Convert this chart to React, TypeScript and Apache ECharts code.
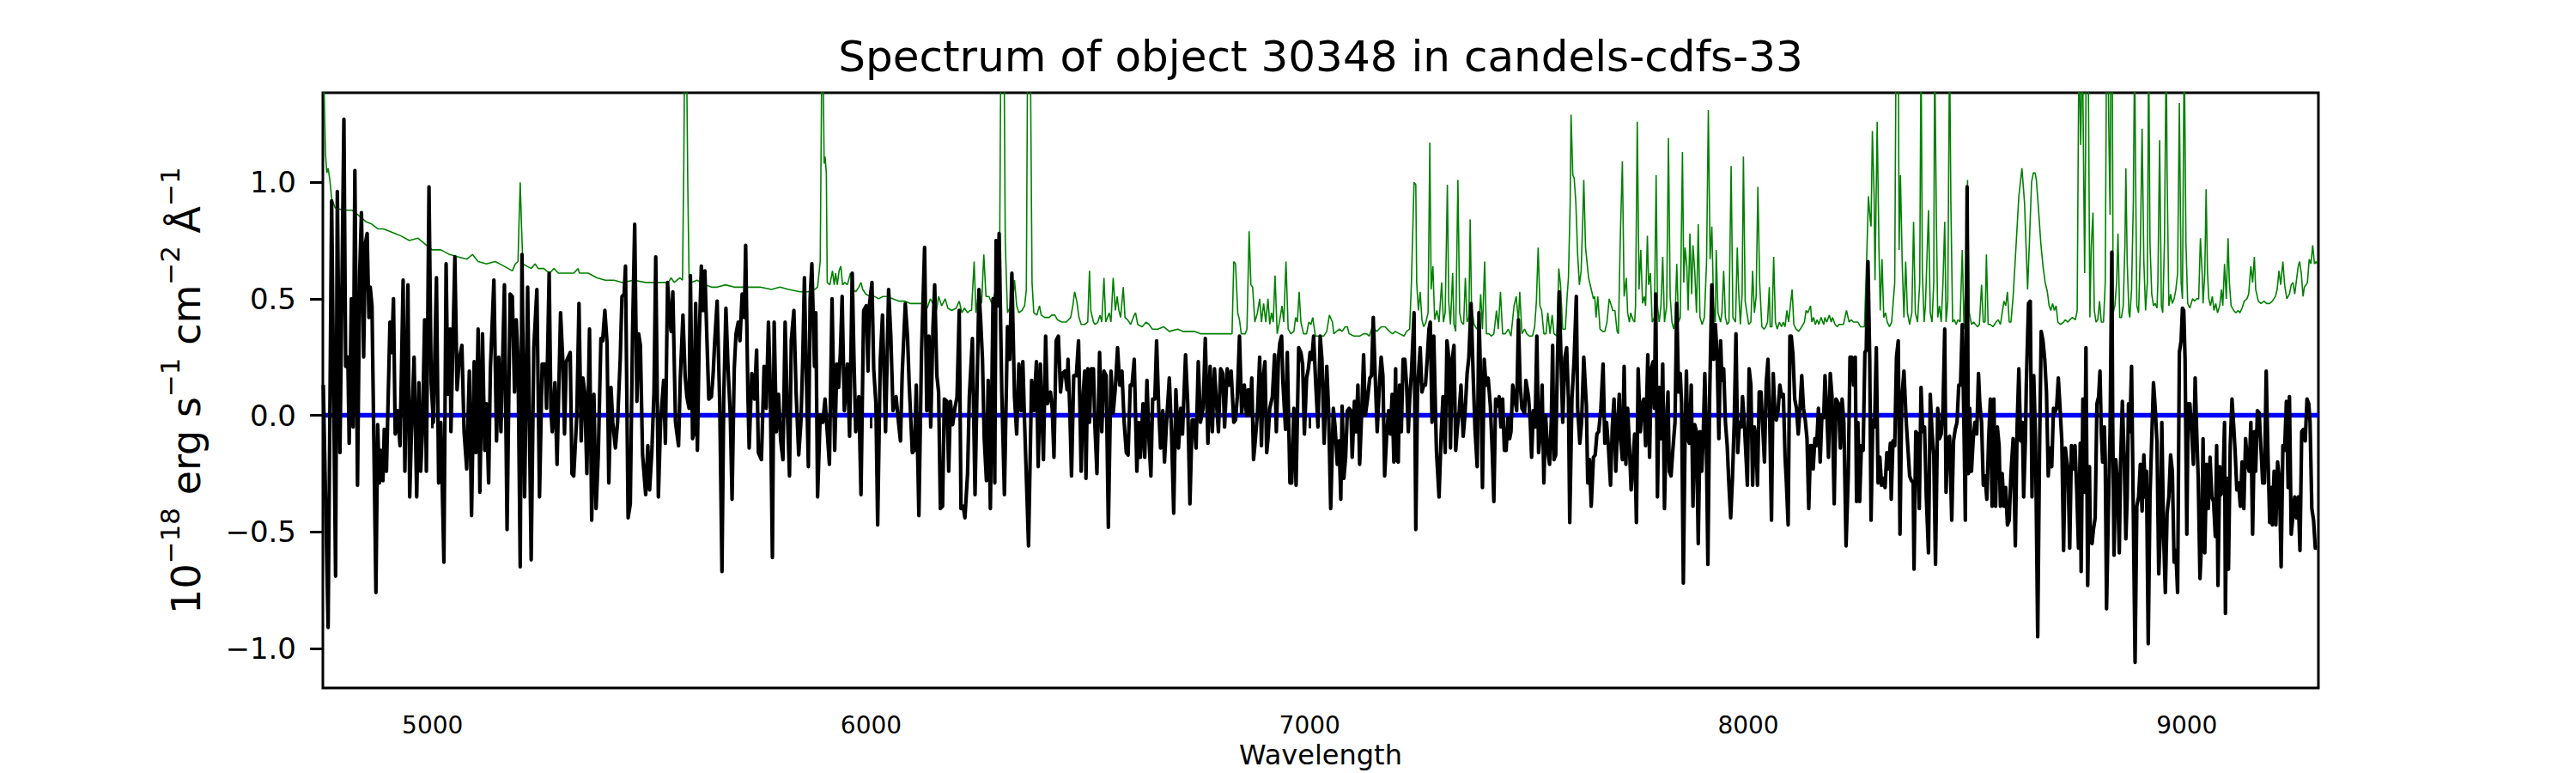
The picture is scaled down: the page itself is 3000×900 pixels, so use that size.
import React, { useEffect, useRef } from "react";
import * as echarts from "echarts";

const TITLE = "Spectrum of object 30348 in candels-cdfs-33";
const X_LABEL = "Wavelength";
const Y_LABEL = "{b|10}{s|\u221218}{b| erg s}{s|\u22121}{b| cm}{s|\u22122}{b| \u00c5}{s|\u22121}";
const X_MIN = 4750;
const X_MAX = 9300;
const Y_MIN = -1.17;
const Y_MAX = 1.384;
const X_TICKS = [5000, 6000, 7000, 8000, 9000];
const Y_TICKS = [-1.0, -0.5, 0.0, 0.5, 1.0];

// object spectrum [wavelength, flux]
const spectrum: [number, number][] = [
[4751,0.13],[4762,-0.91],[4770,0.92],[4779,-0.69],[4783,0.96],[4789,-0.16],[4798,1.27],[4802,0.21],[4807,0.25],[4810,-0.12],[4815,0.50],[4819,-0.05],[4823,1.05],[4829,-0.30],[4834,0.61],[4838,0.87],[4843,0.25],[4847,0.74],[4851,0.78],[4855,0.42],[4858,0.55],[4862,0.47],[4871,-0.76],[4875,-0.04],[4879,-0.29],[4882,-0.15],[4887,-0.28],[4890,-0.06],[4895,-0.24],[4903,0.40],[4907,0.27],[4911,0.50],[4915,-0.08],[4920,0.02],[4926,-0.13],[4933,0.58],[4937,-0.24],[4944,0.56],[4948,-0.35],[4952,-0.07],[4958,0.25],[4964,-0.35],[4969,0.14],[4973,-0.24],[4977,-0.07],[4982,0.41],[4986,-0.24],[4992,0.98],[4997,0.14],[5002,-0.03],[5009,0.59],[5014,-0.29],[5019,-0.03],[5026,-0.63],[5031,0.65],[5035,0.09],[5040,0.37],[5042,-0.07],[5051,0.68],[5056,0.11],[5061,0.24],[5067,0.30],[5072,-0.07],[5078,-0.23],[5084,0.19],[5089,-0.43],[5095,0.23],[5099,-0.16],[5104,0.37],[5108,-0.33],[5114,0.35],[5119,-0.15],[5123,0.05],[5128,-0.29],[5132,0.20],[5140,0.58],[5146,-0.11],[5151,0.25],[5156,-0.07],[5164,0.56],[5170,-0.49],[5177,0.52],[5182,0.51],[5187,0.10],[5191,0.41],[5195,0.24],[5200,-0.65],[5204,0.69],[5210,-0.35],[5217,0.55],[5225,-0.62],[5231,0.29],[5238,0.54],[5244,-0.35],[5250,0.22],[5257,0.22],[5260,0.03],[5266,0.61],[5270,0.02],[5273,-0.07],[5279,0.14],[5284,-0.21],[5292,0.44],[5297,0.24],[5301,-0.08],[5305,0.23],[5314,0.27],[5318,-0.25],[5322,-0.26],[5329,0.00],
[5334,0.48],[5339,-0.11],[5343,0.16],[5347,0.10],[5352,-0.25],[5358,0.37],[5363,-0.45],[5368,0.09],[5373,-0.40],[5378,-0.17],[5384,0.33],[5388,0.32],[5393,0.45],[5398,0.31],[5402,-0.29],[5407,0.12],[5411,-0.03],[5417,-0.14],[5422,-0.03],[5428,0.24],[5432,0.51],[5437,0.52],[5440,0.64],[5446,-0.44],[5451,-0.38],[5456,0.34],[5461,0.82],[5466,0.06],[5470,0.35],[5474,0.30],[5479,-0.17],[5486,-0.34],[5491,-0.13],[5495,-0.32],[5500,-0.16],[5505,0.10],[5509,0.68],[5515,-0.35],[5520,-0.03],[5527,0.15],[5531,-0.12],[5536,0.57],[5540,0.44],[5544,0.36],[5548,0.53],[5554,-0.03],[5561,-0.13],[5565,0.16],[5571,0.43],[5576,0.17],[5580,0.08],[5585,0.03],[5588,0.60],[5593,-0.10],[5596,-0.08],[5600,0.48],[5604,-0.15],[5608,0.32],[5613,0.64],[5617,0.45],[5621,0.62],[5626,0.31],[5630,0.07],[5636,0.08],[5640,0.18],[5643,0.30],[5649,0.49],[5655,0.04],[5660,-0.67],[5664,0.07],[5669,0.46],[5674,0.20],[5679,0.00],[5683,-0.36],[5688,0.20],[5692,0.35],[5697,0.40],[5701,0.32],[5706,0.52],[5711,0.42],[5714,0.73],[5719,0.10],[5722,-0.14],[5728,0.18],[5734,0.07],[5739,0.28],[5743,-0.16],[5750,-0.19],[5756,0.21],[5761,0.03],[5766,0.40],[5770,0.14],[5775,-0.61],[5779,0.40],[5784,-0.07],[5789,0.09],[5794,-0.11],[5799,-0.19],[5804,0.40],[5809,0.02],[5814,-0.26],[5818,0.32],[5824,0.45],[5829,0.10],[5835,-0.17],[5840,-0.03],[5844,0.23],[5848,0.59],[5852,0.20],[5857,-0.22],[5861,0.50],[5865,0.65],[5871,0.21],[5874,0.44],[5878,-0.35],[5884,0.00],[5890,-0.03],[5895,0.07],
[5905,-0.21],[5911,0.50],[5917,-0.15],[5922,0.22],[5926,0.12],[5930,0.27],[5934,0.51],[5939,0.02],[5946,0.22],[5951,-0.09],[5957,0.61],[5961,0.24],[5965,-0.07],[5972,0.08],[5977,-0.34],[5983,0.45],[5989,0.47],[5993,0.19],[5996,0.47],[6002,0.57],[6006,0.20],[6011,0.05],[6015,-0.47],[6021,0.24],[6026,0.43],[6033,-0.07],[6040,0.54],[6045,0.34],[6050,0.02],[6057,0.08],[6062,-0.02],[6067,-0.11],[6071,0.18],[6078,0.48],[6083,0.34],[6087,0.13],[6094,-0.16],[6099,-0.15],[6103,0.13],[6109,-0.43],[6115,0.27],[6122,0.72],[6127,0.02],[6132,0.34],[6136,-0.05],[6141,0.37],[6145,0.56],[6150,0.17],[6154,0.10],[6158,-0.40],[6163,-0.39],[6167,0.07],[6173,0.06],[6177,-0.24],[6181,0.06],[6186,-0.04],[6191,0.03],[6196,0.08],[6201,0.45],[6205,-0.40],[6210,-0.39],[6214,-0.44],[6220,-0.25],[6224,0.08],[6231,0.33],[6237,-0.34],[6242,0.16],[6246,0.54],[6250,0.40],[6254,0.24],[6258,-0.10],[6263,-0.28],[6267,0.15],[6272,-0.40],[6278,0.50],[6282,-0.29],[6285,0.75],[6289,0.47],[6292,0.78],[6298,0.10],[6304,-0.34],[6311,0.38],[6316,0.24],[6321,0.61],[6327,0.08],[6332,-0.08],[6337,0.22],[6342,0.02],[6346,0.23],[6350,-0.03],[6359,-0.56],[6366,0.15],[6371,0.02],[6377,0.23],[6381,-0.22],[6386,0.22],[6393,-0.19],[6398,0.34],[6402,0.05],[6409,0.10],[6413,0.03],[6417,-0.18],[6422,0.32],[6427,0.34],[6432,0.10],[6436,0.18],[6442,0.19],[6447,0.11],[6449,0.24],[6453,0.03],[6457,-0.26],[6462,0.17],[6468,0.17],[6473,0.32],
[6479,-0.24],[6483,0.07],[6487,0.19],[6490,-0.27],[6494,0.20],[6498,-0.03],[6502,0.20],[6507,0.20],[6510,-0.03],[6515,-0.25],[6521,0.27],[6526,-0.07],[6531,0.19],[6536,0.17],[6541,-0.48],[6547,0.19],[6552,0.01],[6557,0.12],[6562,0.29],[6567,0.13],[6572,0.19],[6577,-0.03],[6582,-0.16],[6586,-0.17],[6591,0.13],[6595,0.13],[6600,0.24],[6606,-0.24],[6610,-0.03],[6614,-0.18],[6620,0.05],[6624,-0.18],[6629,0.15],[6634,-0.12],[6638,-0.26],[6642,0.07],[6647,0.07],[6651,0.32],[6656,0.02],[6660,-0.14],[6665,0.02],[6669,-0.20],[6674,-0.02],[6680,0.16],[6685,-0.07],[6690,-0.42],[6695,0.11],[6701,-0.14],[6706,0.03],[6710,-0.08],[6717,0.26],[6722,0.05],[6727,-0.38],[6732,-0.02],[6736,-0.02],[6741,-0.14],[6746,0.23],[6751,-0.03],[6757,0.03],[6762,0.33],[6768,-0.12],[6773,0.21],[6778,-0.07],[6783,0.20],[6787,0.07],[6792,-0.07],[6797,0.20],[6802,0.18],[6806,-0.05],[6812,0.20],[6817,0.13],[6821,0.19],[6827,-0.03],[6831,-0.02],[6835,0.08],[6840,0.34],[6845,0.01],[6851,0.13],[6856,0.00],[6860,0.11],[6864,0.00],[6868,0.16],[6872,-0.19],[6875,-0.13],[6881,0.01],[6886,0.25],[6890,-0.13],[6894,0.16],[6898,0.23],[6902,-0.16],[6905,-0.10],[6909,0.03],[6915,0.08],[6920,0.26],[6924,-0.07],[6929,0.25],[6932,0.31],[6936,0.34],[6939,0.14],[6945,-0.06],[6949,0.27],[6955,-0.29],[6959,-0.29],[6964,0.03],[6969,-0.30],[6975,0.29],[6980,0.27],[6984,0.22],[6988,-0.08],[6993,0.16],[6997,0.20],[7001,0.27],[7005,0.24],[7009,0.34],[7014,0.13],[7019,-0.05],[7024,0.34],[7028,0.24],[7033,-0.12],[7039,0.21],[7043,0.03],[7048,-0.40],
[7054,0.03],[7058,-0.05],[7063,-0.21],[7067,-0.11],[7071,-0.36],[7074,0.04],[7078,-0.27],[7082,-0.18],[7086,0.02],[7090,0.03],[7094,0.02],[7097,-0.18],[7102,0.06],[7106,-0.07],[7110,0.13],[7114,-0.21],[7119,0.03],[7123,0.26],[7127,0.00],[7132,0.07],[7137,0.16],[7141,0.17],[7145,0.42],[7150,0.14],[7154,-0.07],[7159,0.13],[7163,0.25],[7167,0.17],[7171,-0.26],[7176,-0.07],[7180,0.02],[7184,-0.08],[7188,0.09],[7192,-0.20],[7196,0.20],[7198,-0.19],[7202,-0.20],[7205,0.13],[7209,-0.07],[7213,0.24],[7217,0.24],[7221,0.13],[7225,-0.07],[7228,0.07],[7232,0.18],[7238,0.44],[7242,-0.49],[7246,0.12],[7252,0.29],[7256,0.10],[7260,0.13],[7264,0.13],[7268,0.24],[7272,0.37],[7275,0.40],[7279,-0.03],[7283,0.34],[7289,-0.15],[7295,-0.35],[7300,-0.07],[7304,0.08],[7309,-0.16],[7313,0.32],[7317,0.25],[7321,-0.14],[7325,0.24],[7329,0.30],[7333,-0.15],[7337,-0.05],[7341,0.02],[7345,0.13],[7350,-0.09],[7354,0.00],[7359,0.18],[7363,0.25],[7368,0.48],[7373,0.16],[7377,-0.06],[7382,-0.22],[7386,0.44],[7391,0.07],[7394,-0.31],[7398,0.24],[7402,0.13],[7407,0.16],[7412,0.04],[7416,-0.14],[7420,-0.37],[7424,0.07],[7428,0.04],[7432,0.08],[7436,-0.05],[7440,0.07],[7444,-0.15],[7448,-0.15],[7452,-0.01],[7456,-0.10],[7459,-0.07],[7463,0.13],[7467,0.08],[7472,0.02],[7476,0.41],[7480,0.13],[7484,0.03],[7490,0.01],[7493,0.15],[7499,0.08],[7503,-0.03],[7506,-0.18],[7510,0.02],[7514,-0.05],[7518,0.34],[7522,-0.16],[7526,-0.07],[7530,0.13],[7534,-0.29],[7538,0.00],[7542,-0.14],[7547,-0.21],[7551,-0.02],[7554,0.30],[7557,-0.19],[7561,-0.17],[7565,0.24],[7569,0.53],[7573,0.25],[7577,-0.03],[7582,0.25],[7586,0.29],[7590,0.07],[7593,-0.46],[7598,0.07],[7603,0.24],[7608,0.51],[7611,0.03],[7616,-0.12],[7620,-0.03],[7625,0.25],
[7631,0.04],[7634,-0.29],[7638,-0.19],[7642,-0.39],[7647,-0.18],[7651,-0.17],[7655,-0.08],[7659,-0.07],[7664,0.03],[7669,0.22],[7673,-0.12],[7677,-0.03],[7681,-0.13],[7686,-0.30],[7690,-0.05],[7694,0.07],[7698,-0.24],[7702,-0.05],[7706,0.09],[7709,-0.10],[7713,-0.19],[7717,0.21],[7721,-0.21],[7725,0.03],[7729,-0.13],[7733,-0.32],[7737,-0.21],[7741,-0.08],[7745,-0.46],[7749,0.20],[7754,-0.07],[7758,0.05],[7762,0.07],[7766,-0.13],[7771,0.26],[7775,-0.18],[7779,0.20],[7783,0.23],[7786,0.03],[7789,0.52],[7793,-0.35],[7797,0.12],[7801,-0.10],[7805,0.22],[7809,-0.40],[7813,-0.05],[7817,0.10],[7820,-0.24],[7824,-0.26],[7828,-0.15],[7833,-0.03],[7837,0.48],[7841,0.10],[7845,0.18],[7848,0.05],[7852,-0.72],[7856,-0.08],[7859,0.19],[7862,-0.10],[7866,-0.12],[7870,0.13],[7874,-0.39],[7878,-0.04],[7882,-0.07],[7886,-0.55],[7890,-0.07],[7894,-0.24],[7897,-0.11],[7901,0.18],[7904,-0.05],[7908,-0.64],[7912,0.08],[7917,0.56],[7921,0.24],[7925,0.39],[7929,0.26],[7933,-0.10],[7937,0.32],[7940,0.15],[7944,0.20],[7948,-0.03],[7952,-0.13],[7956,-0.30],[7960,-0.44],[7964,-0.27],[7968,-0.03],[7972,0.35],[7976,-0.16],[7980,-0.03],[7984,-0.05],[7987,0.08],[7991,-0.03],[7995,-0.18],[7998,-0.30],[8002,0.20],[8006,0.13],[8010,-0.30],[8014,-0.05],[8018,-0.12],[8021,-0.30],[8025,0.10],[8029,0.10],[8033,-0.05],[8037,-0.20],[8041,0.14],[8045,0.24],[8049,-0.02],[8053,-0.45],[8057,0.18],[8061,0.00],[8064,-0.02],[8068,0.02],[8072,0.13],[8076,0.08],[8080,0.09],[8084,-0.18],[8087,-0.29],[8091,-0.47],[8095,0.34],[8098,0.34],[8102,0.26],[8106,0.07],[8110,0.03],[8114,-0.08],[8118,0.03],[8122,0.17],[8126,0.03],[8130,-0.02],[8134,-0.10],[8138,-0.40],[8142,-0.13],[8145,-0.13],[8148,-0.23],[8152,-0.10],[8156,-0.13],[8160,0.03],[8164,-0.20],[8168,0.00],[8172,-0.01],[8175,0.17],[8179,0.02],[8183,-0.18],[8187,0.18],[8191,0.08],[8196,-0.38],[8200,0.07],
[8206,0.05],[8210,-0.14],[8214,0.07],[8218,-0.03],[8223,-0.56],[8228,-0.26],[8232,0.25],[8236,0.25],[8240,0.13],[8244,0.25],[8247,-0.37],[8250,-0.03],[8254,-0.37],[8258,-0.13],[8262,-0.15],[8266,0.27],[8269,0.28],[8273,0.66],[8277,0.24],[8280,-0.45],[8284,-0.02],[8288,-0.05],[8292,0.29],[8296,-0.29],[8300,-0.18],[8304,-0.30],[8308,-0.27],[8312,-0.31],[8316,-0.16],[8320,-0.23],[8324,-0.12],[8326,-0.36],[8330,-0.11],[8334,-0.13],[8338,0.25],[8342,0.32],[8346,-0.51],[8350,0.07],[8355,0.19],[8360,-0.02],[8364,-0.14],[8368,-0.26],[8372,-0.28],[8376,-0.29],[8378,-0.66],[8382,-0.07],[8386,-0.08],[8390,-0.40],[8394,0.12],[8398,-0.07],[8402,-0.05],[8406,-0.35],[8411,-0.59],[8415,0.09],[8419,-0.07],[8423,-0.17],[8427,-0.64],[8432,0.03],[8436,-0.10],[8440,-0.08],[8444,0.03],[8448,0.37],[8451,-0.33],[8455,-0.10],[8459,-0.09],[8464,-0.45],[8468,-0.11],[8472,-0.06],[8476,-0.03],[8480,0.13],[8484,0.13],[8488,0.39],[8492,-0.07],[8495,-0.45],[8499,0.98],[8502,-0.25],[8505,0.03],[8509,-0.24],[8513,-0.10],[8517,-0.03],[8521,-0.08],[8525,0.18],[8528,0.05],[8532,-0.03],[8536,-0.30],[8540,-0.26],[8544,-0.36],[8548,-0.11],[8552,0.07],[8556,-0.39],[8560,0.07],[8564,-0.39],[8568,-0.05],[8572,-0.13],[8575,-0.39],[8579,-0.25],[8583,-0.39],[8587,-0.31],[8591,-0.47],[8595,-0.45],[8599,-0.25],[8604,-0.10],[8609,-0.56],[8613,-0.05],[8617,0.20],[8621,-0.11],[8625,-0.03],[8628,-0.35],[8632,-0.10],[8634,0.13],[8639,0.48],[8643,0.49],[8647,-0.35],[8651,0.17],[8655,-0.10],[8660,-0.95],[8664,-0.17],[8668,0.36],[8672,0.32],[8676,0.24],[8680,0.10],[8684,-0.26],[8688,-0.14],[8692,-0.22],[8696,0.03],[8699,0.01],[8703,0.03],[8707,0.16],[8711,0.03],[8715,-0.11],[8719,-0.58],[8723,-0.14],[8726,-0.19],[8729,-0.23],[8733,-0.57],[8737,-0.13],[8741,-0.23],[8745,-0.13],[8749,-0.32],[8753,-0.57],[8757,-0.12],[8759,-0.67],[8763,0.07],[8767,-0.33],[8770,0.29],
[8774,-0.73],[8778,-0.22],[8780,-0.54],[8784,-0.55],[8787,-0.49],[8791,-0.44],[8795,0.05],[8799,0.08],[8802,0.19],[8805,-0.07],[8808,-0.20],[8812,-0.05],[8814,-0.19],[8817,-0.83],[8821,-0.42],[8825,-0.07],[8829,0.70],[8831,-0.03],[8834,-0.60],[8838,-0.19],[8842,-0.29],[8846,-0.59],[8849,-0.20],[8853,0.06],[8857,-0.17],[8861,-0.53],[8864,-0.35],[8867,0.05],[8870,-0.07],[8874,0.21],[8878,-0.42],[8882,-1.06],[8886,-0.39],[8890,-0.35],[8894,-0.21],[8898,-0.41],[8902,-0.17],[8906,-0.35],[8908,-0.24],[8912,-0.98],[8916,-0.35],[8920,-0.10],[8924,0.14],[8928,0.03],[8932,-0.12],[8936,-0.68],[8940,-0.47],[8943,-0.03],[8947,-0.51],[8951,-0.76],[8955,-0.42],[8959,-0.35],[8963,-0.17],[8967,-0.24],[8971,-0.63],[8975,-0.58],[8979,-0.76],[8983,0.27],[8987,0.32],[8990,0.46],[8993,0.45],[8996,0.24],[9000,-0.51],[9003,0.05],[9007,0.05],[9011,-0.07],[9015,-0.21],[9019,0.16],[9023,-0.10],[9026,-0.27],[9030,-0.70],[9034,-0.53],[9037,-0.10],[9041,-0.59],[9045,-0.21],[9049,-0.40],[9053,-0.18],[9057,-0.35],[9061,-0.37],[9065,-0.52],[9068,-0.13],[9071,-0.73],[9075,-0.22],[9078,-0.34],[9082,-0.32],[9086,-0.03],[9088,-0.85],[9091,-0.27],[9095,-0.66],[9099,-0.13],[9103,0.07],[9107,-0.05],[9110,-0.15],[9114,-0.32],[9118,-0.29],[9122,-0.39],[9126,-0.20],[9130,-0.40],[9134,-0.10],[9138,-0.20],[9142,-0.24],[9146,-0.03],[9150,-0.51],[9154,-0.07],[9157,-0.24],[9161,0.02],[9165,0.01],[9169,-0.14],[9173,-0.29],[9177,-0.29],[9181,0.19],[9185,-0.17],[9189,-0.46],[9193,-0.31],[9195,-0.47],[9199,-0.24],[9203,-0.47],[9207,-0.20],[9211,-0.27],[9215,-0.65],[9219,-0.13],[9223,-0.15],[9227,0.06],[9231,-0.31],[9234,0.08],[9238,-0.51],[9242,-0.43],[9246,-0.35],[9250,-0.44],[9254,-0.35],[9258,-0.58],[9262,-0.07],[9266,-0.06],[9270,-0.11],[9274,0.07],[9278,0.05],[9281,-0.03],[9285,-0.40],[9289,-0.45],[9293,-0.57],[9297,-0.57]
];

// sky / noise spectrum [wavelength, flux]
const sky: [number, number][] = [
[4751,1.5],[4753,1.38],[4756,1.12],[4759,1.04],[4762,1.06],[4766,1.01],[4770,0.93],[4778,0.89],[4797,0.88],[4810,0.88],[4817,0.88],[4830,0.86],[4849,0.83],[4862,0.82],[4875,0.80],[4888,0.80],[4902,0.79],[4915,0.78],[4928,0.77],[4947,0.75],[4967,0.76],[4986,0.73],[4999,0.71],[5019,0.71],[5039,0.69],[5058,0.68],[5078,0.67],[5091,0.69],[5104,0.66],[5123,0.65],[5143,0.66],[5163,0.64],[5182,0.62],[5189,0.65],[5195,0.66],[5197,0.81],[5200,1.00],[5203,0.81],[5206,0.65],[5215,0.64],[5225,0.63],[5234,0.65],[5241,0.63],[5254,0.63],[5260,0.62],[5267,0.61],[5277,0.63],[5287,0.61],[5306,0.61],[5322,0.61],
[5332,0.63],[5335,0.61],[5355,0.61],[5375,0.59],[5394,0.58],[5414,0.58],[5433,0.57],[5459,0.58],[5486,0.57],[5512,0.57],[5538,0.57],[5544,0.59],[5551,0.57],[5564,0.59],[5570,0.58],[5573,1.08],[5575,1.6],[5579,1.6],[5582,1.00],[5585,0.59],[5590,0.57],[5603,0.58],[5623,0.56],[5636,0.55],[5649,0.55],[5668,0.56],[5688,0.55],[5707,0.55],[5727,0.55],[5747,0.55],[5773,0.54],[5792,0.55],[5812,0.54],[5838,0.53],[5857,0.53],[5871,0.54],[5878,0.55],[5884,0.66],[5888,1.6],[5890,1.6],[5893,1.08],[5895,1.11],[5898,1.04],
[5900,0.57],[5906,0.56],[5912,0.62],[5916,0.56],[5919,0.61],[5923,0.56],[5927,0.62],[5931,0.64],[5935,0.56],[5940,0.57],[5946,0.56],[5953,0.61],[5959,0.54],[5965,0.53],[5972,0.55],[5977,0.57],[5981,0.54],[5988,0.52],[5998,0.51],[6008,0.51],[6017,0.50],[6027,0.51],[6037,0.51],[6050,0.50],[6063,0.49],[6076,0.49],[6089,0.48],[6102,0.48],[6115,0.48],[6128,0.46],[6135,0.50],[6141,0.48],[6149,0.45],[6154,0.51],[6161,0.47],[6169,0.50],[6175,0.46],[6184,0.45],[6194,0.46],[6201,0.49],[6207,0.44],[6213,0.46],[6220,0.44],[6225,0.45],[6229,0.45],[6235,0.66],[6239,0.44],[6246,0.54],[6252,0.48],[6257,0.69],[6262,0.51],[6269,0.51],[6275,0.48],[6285,0.54],[6288,0.47],[6293,0.66],[6296,1.6],[6303,1.6],[6306,0.74],[6311,0.44],[6316,0.46],[6321,0.44],[6327,0.58],[6332,0.47],[6337,0.44],[6344,0.45],[6350,0.47],[6354,0.54],[6357,1.6],[6363,1.6],[6367,0.57],[6371,0.44],[6378,0.43],[6384,0.47],[6388,0.43],[6396,0.42],[6406,0.42],[6412,0.43],[6419,0.43],[6425,0.41],[6435,0.40],[6445,0.40],[6455,0.42],[6460,0.47],[6464,0.53],[6469,0.49],
[6474,0.42],[6479,0.39],[6487,0.39],[6494,0.40],[6498,0.62],[6501,0.45],[6507,0.40],[6511,0.39],[6517,0.40],[6522,0.43],[6526,0.40],[6531,0.59],[6535,0.40],[6539,0.42],[6543,0.44],[6547,0.40],[6552,0.59],[6557,0.45],[6561,0.51],[6565,0.45],[6569,0.42],[6575,0.55],[6579,0.42],[6585,0.41],[6592,0.39],[6596,0.41],[6600,0.43],[6603,0.44],[6608,0.39],[6618,0.38],[6627,0.40],[6634,0.39],[6641,0.37],[6654,0.37],[6667,0.38],[6680,0.36],[6699,0.37],[6712,0.36],[6725,0.36],[6738,0.36],[6751,0.35],[6771,0.35],[6787,0.35],[6797,0.35],[6817,0.35],[6823,0.35],[6827,0.66],[6831,0.65],[6836,0.44],[6840,0.41],[6844,0.35],[6853,0.35],[6857,0.37],[6862,0.79],[6866,0.56],[6870,0.55],[6875,0.40],[6881,0.44],[6886,0.50],[6890,0.40],[6895,0.48],[6900,0.40],[6905,0.50],[6909,0.39],[6913,0.44],[6917,0.40],[6921,0.60],[6926,0.35],[6931,0.40],[6937,0.47],[6941,0.40],[6946,0.66],[6951,0.37],[6957,0.35],[6964,0.36],[6968,0.42],[6972,0.40],[6976,0.53],[6980,0.40],[6986,0.35],[6993,0.35],[6998,0.40],[7003,0.39],[7007,0.42],[7013,0.34],[7022,0.34],[7032,0.34],[7039,0.36],[7045,0.43],
[7052,0.40],[7055,0.35],[7061,0.36],[7068,0.37],[7074,0.36],[7081,0.38],[7086,0.38],[7090,0.35],[7101,0.34],[7114,0.34],[7123,0.35],[7130,0.35],[7136,0.34],[7143,0.38],[7153,0.36],[7163,0.38],[7172,0.38],[7182,0.36],[7189,0.35],[7195,0.36],[7205,0.35],[7215,0.34],[7221,0.36],[7228,0.37],[7232,0.57],[7238,1.00],[7242,0.99],[7244,0.57],[7248,0.45],[7252,0.53],[7256,0.41],[7260,0.38],[7265,0.40],[7270,0.44],[7274,1.17],[7277,0.54],[7281,0.64],[7285,0.41],[7290,0.45],[7295,0.40],[7301,0.57],[7305,0.40],[7309,0.44],[7314,0.99],[7317,0.49],[7321,0.39],[7326,0.61],[7329,0.39],[7333,0.36],[7338,1.01],[7342,0.44],[7346,0.40],[7351,0.39],[7355,0.59],[7359,0.40],[7363,0.42],[7366,0.84],[7369,0.47],[7375,0.39],[7381,0.37],[7386,0.39],[7390,0.52],[7394,0.37],[7399,0.66],[7403,0.35],[7409,0.35],[7414,0.34],[7420,0.35],[7426,0.45],[7430,0.37],[7435,0.53],[7440,0.35],[7446,0.35],[7453,0.37],[7459,0.34],[7466,0.47],[7471,0.51],[7476,0.40],[7479,0.53],[7484,0.35],[7490,0.37],[7495,0.35],[7501,0.34],[7508,0.34],[7513,0.38],[7517,0.49],[7521,0.72],[7525,0.47],[7529,0.45],[7534,0.35],[7539,0.35],[7543,0.44],[7548,0.35],[7553,0.43],[7557,0.35],[7564,0.34],[7568,0.63],[7572,0.56],[7577,0.37],[7583,0.37],[7587,0.51],[7590,0.59],[7594,0.91],[7596,1.29],[7600,1.03],[7603,1.02],[7607,0.91],[7611,0.69],[7615,0.56],[7619,0.62],[7623,0.86],[7625,1.01],[7629,0.72],
[7636,0.59],[7642,0.54],[7647,0.50],[7650,0.51],[7653,0.42],[7657,0.51],[7662,0.37],[7668,0.36],[7673,0.36],[7678,0.40],[7683,0.50],[7688,0.47],[7691,0.45],[7696,0.45],[7701,0.36],[7704,0.35],[7708,0.74],[7713,1.09],[7717,0.51],[7722,0.59],[7725,0.44],[7729,0.40],[7732,0.44],[7737,0.41],[7741,0.40],[7743,0.47],[7747,1.26],[7751,0.54],[7755,0.71],[7759,0.48],[7763,0.51],[7766,0.47],[7770,0.77],[7773,0.56],[7777,0.61],[7781,0.40],[7786,0.42],[7790,1.03],[7793,0.47],[7797,0.40],[7801,0.47],[7805,0.68],[7809,0.40],[7814,0.47],[7818,1.19],[7822,0.51],[7826,0.40],[7830,0.37],[7833,0.40],[7837,0.65],[7841,0.40],[7845,0.42],[7850,1.13],[7853,0.57],[7856,0.72],[7860,0.64],[7863,0.45],[7867,0.78],[7871,0.52],[7874,0.73],[7878,0.62],[7882,0.44],[7886,0.82],[7890,0.42],[7895,0.39],[7900,0.42],[7905,0.66],[7909,1.31],[7913,0.67],[7917,0.81],[7921,0.47],[7925,0.40],[7927,0.71],[7931,0.44],[7937,0.40],[7940,0.44],[7944,0.62],[7948,0.42],[7952,0.39],[7956,0.40],[7961,1.07],[7965,0.42],[7971,0.40],[7975,0.72],[7978,0.54],[7982,0.39],[7986,0.52],[7989,1.11],[7993,0.49],[7997,0.44],[8001,0.39],[8006,0.40],[8010,0.62],[8014,0.44],[8018,0.51],[8022,0.98],[8026,0.57],[8031,0.38],[8036,0.37],[8040,0.38],[8044,0.40],[8048,0.55],[8050,0.38],[8054,0.38],[8058,0.68],[8062,0.40],[8066,0.37],[8071,0.40],[8076,0.38],[8080,0.40],[8084,0.38],[8088,0.45],[8092,0.40],[8096,0.47],[8100,0.54],[8104,0.39],[8109,0.37],[8115,0.36],[8122,0.38],[8128,0.40],[8132,0.45],[8136,0.44],[8142,0.47],[8145,0.40],[8149,0.42],[8153,0.39],[8157,0.41],[8161,0.39],[8166,0.42],[8172,0.39],[8175,0.42],[8179,0.40],[8185,0.43],[8189,0.40],[8192,0.42],[8198,0.39],[8203,0.38],
[8207,0.39],[8217,0.39],[8224,0.45],[8230,0.40],[8235,0.41],[8240,0.40],[8245,0.40],[8250,0.40],[8256,0.38],[8265,0.38],[8270,0.67],[8274,0.94],[8278,0.84],[8280,0.81],[8283,1.22],[8287,0.94],[8289,0.58],[8294,1.26],[8298,0.72],[8301,0.45],[8305,0.67],[8309,0.42],[8313,0.44],[8317,0.40],[8322,0.38],[8327,0.40],[8334,0.57],[8337,1.6],[8342,1.6],[8344,0.71],[8347,1.03],[8351,0.66],[8355,0.42],[8359,0.66],[8363,0.44],[8368,0.39],[8373,0.44],[8377,0.83],[8381,0.44],[8386,0.40],[8391,0.57],[8394,1.6],[8397,0.61],[8401,0.40],[8404,0.47],[8411,0.88],[8415,0.44],[8419,0.40],[8423,0.57],[8425,1.6],[8429,0.83],[8432,0.42],[8436,0.47],[8440,0.40],[8444,0.57],[8448,0.83],[8451,0.40],[8455,0.49],[8459,1.6],[8462,0.91],[8466,0.40],[8470,0.41],[8474,0.39],[8478,0.41],[8483,0.40],[8488,0.71],[8492,0.37],[8496,0.57],[8500,1.01],[8504,0.44],[8509,0.39],[8514,0.40],[8518,0.39],[8523,0.38],[8527,0.39],[8532,0.56],[8536,0.40],[8540,0.40],[8543,0.69],[8547,0.39],[8552,0.39],[8558,0.38],[8565,0.40],[8570,0.41],[8575,0.39],[8579,0.44],[8583,0.49],[8587,0.47],[8591,0.53],[8595,0.40],[8599,0.40],[8604,0.51],[8611,0.74],[8617,0.94],[8624,1.06],[8630,0.91],[8637,0.54],[8641,0.74],[8646,1.00],[8650,1.04],[8654,1.04],[8657,1.01],[8662,0.88],[8667,0.74],[8672,0.64],[8677,0.57],[8682,0.53],[8686,0.47],[8690,0.45],[8694,0.48],[8698,0.45],[8702,0.47],[8706,0.40],[8712,0.39],[8719,0.40],[8723,0.41],[8729,0.40],[8733,0.41],[8739,0.42],[8746,0.41],[8750,0.45],[8754,1.6],[8758,1.16],[8762,1.6],[8767,0.61],[8771,1.6],[8775,1.6],
[8779,0.42],[8782,0.72],[8786,0.87],[8789,0.45],[8793,0.40],[8797,0.41],[8801,0.49],[8805,0.40],[8810,0.40],[8814,0.57],[8817,1.6],[8820,1.6],[8822,1.25],[8825,0.86],[8827,1.6],[8830,1.6],[8832,0.44],[8836,0.47],[8840,0.57],[8843,0.78],[8847,0.42],[8851,0.42],[8855,0.47],[8859,0.74],[8861,1.06],[8864,0.66],[8868,0.44],[8870,0.42],[8874,0.54],[8878,0.91],[8881,1.6],[8883,1.08],[8886,0.47],[8890,0.44],[8894,0.71],[8898,1.23],[8902,0.66],[8906,0.45],[8910,0.57],[8913,1.6],[8916,0.74],[8920,0.52],[8924,0.47],[8928,0.48],[8932,0.46],[8934,0.57],[8938,1.18],[8942,0.47],[8945,0.44],[8949,0.74],[8953,1.6],[8955,1.04],[8959,0.47],[8963,0.52],[8967,0.48],[8971,0.50],[8975,0.54],[8979,0.61],[8983,1.34],[8987,0.57],[8990,0.50],[8994,1.6],[8998,0.74],[9002,0.48],[9007,0.46],[9013,0.50],[9018,0.49],[9022,0.50],[9027,0.50],[9031,0.76],[9035,0.61],[9037,0.48],[9041,0.61],[9044,0.97],[9047,0.62],[9050,0.50],[9054,0.47],[9058,0.51],[9062,0.45],[9066,0.48],[9070,0.44],[9075,0.47],[9079,0.54],[9082,0.47],[9086,0.65],[9090,0.50],[9094,0.76],[9097,0.57],[9101,0.47],[9107,0.45],[9112,0.44],[9117,0.45],[9121,0.44],[9126,0.46],[9131,0.49],[9137,0.50],[9141,0.52],[9146,0.64],[9150,0.57],[9154,0.68],[9157,0.54],[9163,0.49],[9169,0.48],[9176,0.49],[9182,0.48],[9189,0.48],[9195,0.49],[9202,0.51],[9206,0.54],[9210,0.62],[9214,0.56],[9219,0.66],[9223,0.56],[9228,0.50],[9234,0.52],[9238,0.56],[9242,0.57],[9246,0.52],[9250,0.58],[9254,0.64],[9257,0.66],[9261,0.61],[9265,0.51],[9268,0.55],[9272,0.56],[9275,0.57],[9279,0.67],[9283,0.65],[9287,0.73],[9291,0.65],[9295,0.66],[9297,0.65]
];

// model / zero line [wavelength, flux]
const model: [number, number][] = [[4750, 0], [9300, 0]];

const FONT = "DejaVu Sans";

export default function App() {
  const ref = useRef<HTMLDivElement>(null);
  useEffect(() => {
    const chart = echarts.init(ref.current as HTMLDivElement, null, { renderer: "svg" });
    chart.setOption({
      animation: false,
      backgroundColor: "#ffffff",
      textStyle: { fontFamily: FONT },
      title: {
        text: TITLE,
        left: 1538,
        top: 41,
        padding: 0,
        textAlign: "center",
        textStyle: { fontFamily: FONT, fontSize: 50, fontWeight: "normal", color: "#000" },
      },
      grid: {
        left: 376,
        right: 300,
        top: 108,
        bottom: 95,
        show: true,
        borderColor: "#000",
        borderWidth: 3,
        backgroundColor: "transparent",
      },
      xAxis: {
        type: "value",
        min: X_MIN,
        max: X_MAX,
        name: X_LABEL,
        nameLocation: "middle",
        nameGap: 52,
        nameTextStyle: { fontFamily: FONT, fontSize: 32, color: "#000" },
        axisLine: { show: false },
        axisTick: { show: true, length: 15, lineStyle: { color: "#000", width: 3 }, customValues: X_TICKS },
        axisLabel: {
          customValues: X_TICKS,
          fontFamily: FONT,
          fontSize: 28,
          color: "#000",
          margin: 29,
          formatter: (v: number) => String(Math.round(v)),
        },
        splitLine: { show: false },
      },
      yAxis: {
        type: "value",
        min: Y_MIN,
        max: Y_MAX,
        name: Y_LABEL,
        nameLocation: "middle",
        nameRotate: 90,
        nameGap: 136,
        nameTextStyle: {
          fontFamily: FONT,
          color: "#000",
          rich: {
            b: { fontFamily: FONT, fontSize: 46, lineHeight: 58, verticalAlign: "bottom", color: "#000" },
            s: { fontFamily: FONT, fontSize: 31, lineHeight: 34, verticalAlign: "top", color: "#000" },
          },
        },
        axisLine: { show: false },
        axisTick: { show: true, length: 15, lineStyle: { color: "#000", width: 3 }, customValues: Y_TICKS },
        axisLabel: {
          customValues: Y_TICKS,
          fontFamily: FONT,
          fontSize: 34,
          color: "#000",
          margin: 31,
          formatter: (v: number) => v.toFixed(1).replace("-", "\u2212"),
        },
        splitLine: { show: false },
      },
      series: [
        {
          type: "line",
          data: sky,
          showSymbol: false,
          symbol: "none",
          silent: true,
          lineStyle: { color: "#008000", width: 1.6 },
          z: 2,
        },
        {
          type: "line",
          data: model,
          showSymbol: false,
          symbol: "none",
          silent: true,
          lineStyle: { color: "#0000ff", width: 5.5 },
          z: 3,
        },
        {
          type: "line",
          data: spectrum,
          showSymbol: false,
          symbol: "none",
          silent: true,
          lineStyle: { color: "#000000", width: 4.2, join: "round" },
          z: 4,
        },
      ],
    });
    return () => chart.dispose();
  }, []);
  return (
    <div
      ref={ref}
      style={{ position: "fixed", left: 0, top: 0, width: 3000, height: 900, background: "#fff" }}
    />
  );
}
